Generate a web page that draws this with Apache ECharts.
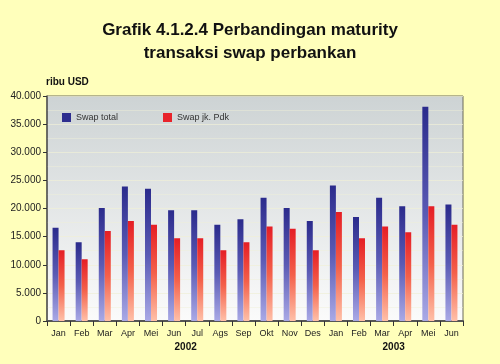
<!DOCTYPE html>
<html>

<head>
    <meta charset="utf-8" />
    <title>Grafik 4.1.2.4</title>
    <script src="https://cdn.jsdelivr.net/npm/echarts@6/dist/echarts.min.js"></script>
</head>

<body style="margin:0;background:#ffffbb">
    <div id="main" style="width:500px;height:364px"></div>
    <script type="text/javascript">
        var months = ['Jan', 'Feb', 'Mar', 'Apr', 'Mei', 'Jun', 'Jul', 'Ags', 'Sep', 'Okt', 'Nov', 'Des',
            'Jan', 'Feb', 'Mar', 'Apr', 'Mei', 'Jun'];
        var swapTotal = [16600, 14000, 20100, 23900, 23500, 19700, 19700, 17100, 18100, 21900, 20100, 17800,
            24100, 18500, 21900, 20400, 38100, 20700];
        var swapPdk = [12600, 11000, 16000, 17800, 17100, 14700, 14700, 12600, 14000, 16800, 16400, 12600,
            19400, 14700, 16800, 15800, 20400, 17100];
        var years = ['2002', '2003'];
        var yearSpan = [[0, 11], [12, 17]];

        var font = 'Liberation Sans';
        var myChart = echarts.init(document.getElementById('main'));

        var option = {
            backgroundColor: '#ffffbb',
            animation: false,
            title: {
                text: 'Grafik 4.1.2.4 Perbandingan maturity\ntransaksi swap perbankan',
                left: 'center',
                top: 14,
                textStyle: { fontFamily: font, fontSize: 17, fontWeight: 'bold', color: '#111', lineHeight: 23 }
            },
            legend: {
                left: 57,
                top: 108,
                itemWidth: 9,
                itemHeight: 9,
                itemGap: 45,
                icon: 'rect',
                textStyle: { fontFamily: font, fontSize: 9, color: '#333' },
                data: [
                    { name: 'Swap total', itemStyle: { color: '#2e2e8f' } },
                    { name: 'Swap jk. Pdk', itemStyle: { color: '#e8232a' } }
                ]
            },
            grid: {
                left: 47, right: 37, top: 96, bottom: 43,
                show: true,
                borderColor: '#6b6b5a',
                borderWidth: 1,
                backgroundColor: new echarts.graphic.LinearGradient(0, 0, 0, 1, [
                    { offset: 0, color: '#cdd3d4' },
                    { offset: 1, color: '#fbfbfb' }
                ])
            },
            xAxis: {
                type: 'category',
                data: months,
                axisLine: { lineStyle: { color: '#555', width: 2 } },
                axisTick: { show: true, length: 5, lineStyle: { color: '#333' } },
                axisLabel: { fontFamily: font, fontSize: 9, color: '#222', margin: 8 }
            },
            yAxis: {
                type: 'value',
                name: 'ribu USD',
                nameLocation: 'end',
                nameGap: 9,
                nameTextStyle: { fontFamily: font, fontSize: 10, fontWeight: 'bold', color: '#111', align: 'left', padding: [0, 0, 0, -1] },
                min: 0,
                max: 40000,
                interval: 5000,
                axisLine: { show: true, lineStyle: { color: '#555', width: 1.5 } },
                axisTick: { show: true, length: 4, lineStyle: { color: '#333' } },
                axisLabel: {
                    fontFamily: font, fontSize: 10, color: '#222', margin: 6,
                    formatter: function (v) {
                        return v === 0 ? '0' : (v / 1000).toFixed(3);
                    }
                },
                splitLine: { show: true, lineStyle: { color: 'rgba(240,240,215,0.7)', width: 1 } },
                minorTick: { show: false, splitNumber: 2 },
                minorSplitLine: { show: true, lineStyle: { color: 'rgba(240,240,215,0.45)', width: 1 } }
            },
            series: [
                {
                    name: 'Swap total',
                    type: 'bar',
                    data: swapTotal,
                    barWidth: 6,
                    barGap: '0%',
                    itemStyle: {
                        color: new echarts.graphic.LinearGradient(0, 0, 0, 1, [
                            { offset: 0, color: '#2b2b8c' },
                            { offset: 0.5, color: '#5a5ab4' },
                            { offset: 1, color: '#a9a9e6' }
                        ])
                    }
                },
                {
                    name: 'Swap jk. Pdk',
                    type: 'bar',
                    data: swapPdk,
                    barWidth: 6,
                    itemStyle: {
                        color: new echarts.graphic.LinearGradient(0, 0, 0, 1, [
                            { offset: 0, color: '#e51e25' },
                            { offset: 0.5, color: '#f4604a' },
                            { offset: 1, color: '#ffc0a8' }
                        ])
                    }
                }
            ]
        };
        myChart.setOption(option);

        // year labels centred under their months
        var yearText = years.map(function (y, i) {
            var a = myChart.convertToPixel({ xAxisIndex: 0 }, yearSpan[i][0]);
            var b = myChart.convertToPixel({ xAxisIndex: 0 }, yearSpan[i][1]);
            return {
                type: 'text',
                x: (a + b) / 2,
                y: 342,
                style: {
                    text: y, fontFamily: font, fontSize: 10, fontWeight: 'bold', fill: '#111',
                    align: 'center', verticalAlign: 'top'
                }
            };
        });
        myChart.setOption({ graphic: yearText });
    </script>
</body>

</html>
